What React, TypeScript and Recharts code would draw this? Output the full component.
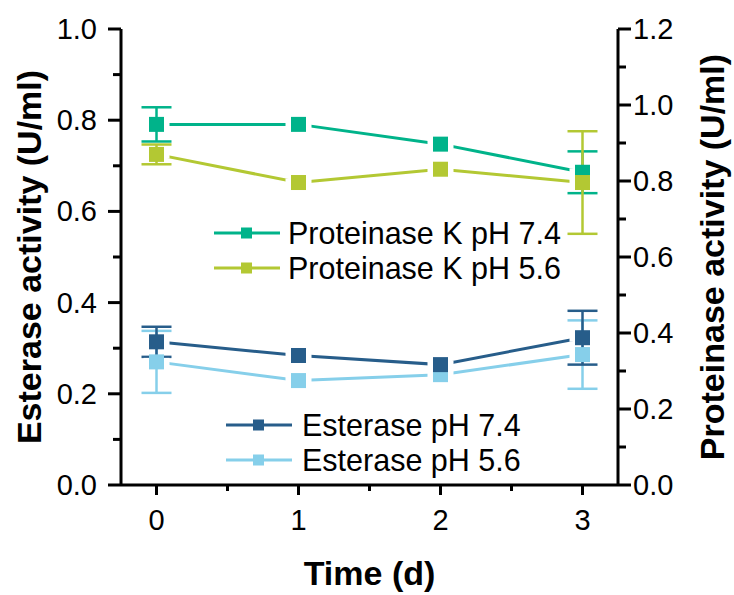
import { LineChart, Line, XAxis, YAxis, ErrorBar, Legend } from "recharts";

const FONT = "'Liberation Sans', Arial, sans-serif";

// days on the x axis
const days = [0, 1, 2, 3];

// proteinase K activity (right axis, U/ml)
const pk74 = [0.949, 0.949, 0.897, 0.823];
const pk74Err = [0.045, 0, 0, 0.055];
const pk56 = [0.87, 0.796, 0.831, 0.796];
const pk56Err = [0.026, 0, 0, 0.135];

// esterase activity (left axis, U/ml)
const est74 = [0.314, 0.284, 0.264, 0.323];
const est74Err = [0.033, 0, 0, 0.059];
const est56 = [0.27, 0.229, 0.242, 0.286];
const est56Err = [0.068, 0, 0, 0.075];

// tick values (minor ticks included, labels only on majors)
const xTicks = [0, 0.5, 1, 1.5, 2, 2.5, 3];
const leftTicks = [0, 0.1, 0.2, 0.3, 0.4, 0.5, 0.6, 0.7, 0.8, 0.9, 1.0];
const rightTicks = [0, 0.1, 0.2, 0.3, 0.4, 0.5, 0.6, 0.7, 0.8, 0.9, 1.0, 1.1, 1.2];

const series = [
  { key: "pk74", name: "Proteinase K pH 7.4", color: "#00b38a", axis: "right", group: 0 },
  { key: "pk56", name: "Proteinase K pH 5.6", color: "#b3c833", axis: "right", group: 0 },
  { key: "est74", name: "Esterase pH 7.4", color: "#275d8a", axis: "left", group: 1 },
  { key: "est56", name: "Esterase pH 5.6", color: "#86cfea", axis: "left", group: 1 },
];

const isMajor = (v: number) => Math.round(v * 10) % 2 === 0;

function XTick(props: any) {
  const { x, y, payload } = props;
  const major = Number.isInteger(payload.value);
  return (
    <g>
      <line x1={x} x2={x} y1={y} y2={y + (major ? 10 : 6)} stroke="#000" strokeWidth={3} />
      {major && (
        <text x={x} y={y + 45} textAnchor="middle" fontSize={29} fontFamily={FONT} fill="#000">
          {payload.value}
        </text>
      )}
    </g>
  );
}

function YTick(props: any) {
  const { x, y, payload, side } = props;
  const major = isMajor(payload.value);
  const dir = side === "left" ? -1 : 1;
  return (
    <g>
      <line x1={x} x2={x + dir * (major ? 13 : 8)} y1={y} y2={y} stroke="#000" strokeWidth={3} />
      {major && (
        <text
          x={x + dir * (side === "left" ? 24 : 15)}
          y={y + 10}
          textAnchor={side === "left" ? "end" : "start"}
          fontSize={29}
          fontFamily={FONT}
          fill="#000"
        >
          {payload.value.toFixed(1)}
        </text>
      )}
    </g>
  );
}

const squareDot = (color: string) => (p: any) => {
  if (p.cx == null || p.cy == null) return <g key={p.key} />;
  return (
    <g key={p.key}>
      <rect x={p.cx - 13} y={p.cy - 4} width={26} height={8} fill="#fff" />
      <rect x={p.cx - 7.5} y={p.cy - 7.5} width={15} height={15} fill={color} />
    </g>
  );
};

// legend placement for the two groups
const legendBoxes = [
  { left: 214, top: 216, lineW: 66, gap: 8 },
  { left: 226, top: 408, lineW: 66, gap: 10 },
];

function renderLegend() {
  return (
    <div style={{ position: "relative", width: 734, height: 595, pointerEvents: "none" }}>
      {legendBoxes.map((box, g) => (
        <div key={g} style={{ position: "absolute", left: box.left, top: box.top }}>
          {series
            .filter((s) => s.group === g)
            .map((s) => (
              <div key={s.key} style={{ display: "flex", alignItems: "center", height: 34.5 }}>
                <svg width={box.lineW} height={12} style={{ marginRight: box.gap }}>
                  <line x1={0} x2={box.lineW} y1={6} y2={6} stroke={s.color} strokeWidth={3} />
                  <rect x={box.lineW / 2 - 6} y={0.5} width={11} height={11} fill={s.color} />
                </svg>
                <span style={{ fontFamily: FONT, fontSize: 30.5, lineHeight: "30px", color: "#000", whiteSpace: "nowrap" }}>
                  {s.name}
                </span>
              </div>
            ))}
        </div>
      ))}
    </div>
  );
}

export default function App() {
  const rows = days.map((d, i) => ({
    day: d,
    pk74: pk74[i],
    pk74Err: pk74Err[i],
    pk56: pk56[i],
    pk56Err: pk56Err[i],
    est74: est74[i],
    est74Err: est74Err[i],
    est56: est56[i],
    est56Err: est56Err[i],
  }));

  const drawOrder = ["est56", "est74", "pk74", "pk56"];

  return (
    <div style={{ position: "absolute", left: 0, top: 0, background: "#fff" }}>
      <LineChart width={734} height={595} data={rows} margin={{ top: 29, right: 0, bottom: 0, left: 0 }}>
        <XAxis
          type="number"
          dataKey="day"
          domain={[-0.25, 3.25]}
          ticks={xTicks}
          interval={0}
          tickLine={false}
          tickSize={0}
          tickMargin={0}
          tick={(p: any) => <XTick {...p} />}
          axisLine={{ stroke: "#000", strokeWidth: 3 }}
          height={110}
          label={{
            value: "Time (d)",
            position: "center",
            dy: 33,
            fontSize: 34,
            fontWeight: "bold",
            fontFamily: FONT,
            fill: "#000",
          }}
        />
        <YAxis
          yAxisId="left"
          domain={[0, 1]}
          ticks={leftTicks}
          interval={0}
          tickLine={false}
          tickSize={0}
          tickMargin={0}
          tick={(p: any) => <YTick {...p} side="left" />}
          axisLine={{ stroke: "#000", strokeWidth: 3 }}
          width={121}
          label={{
            value: "Esterase activity (U/ml)",
            angle: -90,
            position: "center",
            dx: -32,
            fontSize: 34,
            fontWeight: "bold",
            fontFamily: FONT,
            fill: "#000",
          }}
        />
        <YAxis
          yAxisId="right"
          orientation="right"
          domain={[0, 1.2]}
          ticks={rightTicks}
          interval={0}
          tickLine={false}
          tickSize={0}
          tickMargin={0}
          tick={(p: any) => <YTick {...p} side="right" />}
          axisLine={{ stroke: "#000", strokeWidth: 3 }}
          width={116}
          label={{
            value: "Proteinase activity (U/ml)",
            angle: -90,
            position: "center",
            dx: 36,
            fontSize: 34,
            fontWeight: "bold",
            fontFamily: FONT,
            fill: "#000",
          }}
        />
        {drawOrder.map((k) => {
          const s = series.find((x) => x.key === k)!;
          return (
            <Line
              key={s.key}
              yAxisId={s.axis}
              dataKey={s.key}
              name={s.name}
              stroke={s.color}
              strokeWidth={3}
              dot={squareDot(s.color)}
              activeDot={false}
              isAnimationActive={false}
            >
              <ErrorBar dataKey={s.key + "Err"} width={15} strokeWidth={2.5} stroke={s.color} direction="y" />
            </Line>
          );
        })}
        <Legend
          layout="horizontal"
          verticalAlign="middle"
          align="center"
          content={renderLegend}
          wrapperStyle={{ left: 0, top: 0, width: 734, height: 595, margin: 0 }}
        />
      </LineChart>
    </div>
  );
}
